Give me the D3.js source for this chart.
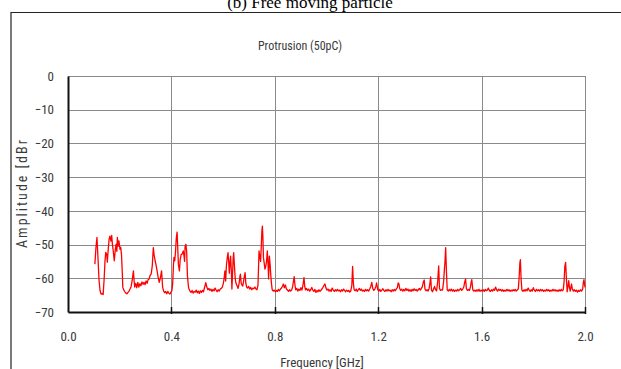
<!DOCTYPE html>
<html>
<head>
<meta charset="utf-8">
<script src="https://cdn.jsdelivr.net/npm/d3@7"></script>
<style>
  body { margin: 0; background: #fff; }
  svg { display: block; }
</style>
</head>
<body>
<svg id="chart" width="621" height="369"></svg>
<script>
// spectrum (frequency in GHz, amplitude in dBr)
var freqGHz = [
  0.104,0.108,0.112,0.116,0.120,0.124,0.128,0.132,0.136,0.140,0.143,0.146,0.150,0.152,0.156,0.159,0.162,0.166,0.169,0.172,
  0.175,0.179,0.183,0.186,0.189,0.191,0.194,0.197,0.201,0.204,0.207,0.210,0.212,0.216,0.220,0.224,0.228,0.232,0.236,0.240,
  0.244,0.248,0.253,0.256,0.258,0.262,0.266,0.270,0.274,0.278,0.282,0.286,0.290,0.294,0.298,0.302,0.306,0.310,0.314,0.317,
  0.322,0.326,0.330,0.333,0.337,0.340,0.344,0.349,0.353,0.357,0.362,0.366,0.370,0.374,0.378,0.382,0.386,0.390,0.394,0.398,
  0.402,0.405,0.408,0.410,0.413,0.416,0.419,0.422,0.424,0.427,0.431,0.434,0.438,0.441,0.446,0.449,0.451,0.453,0.456,0.459,
  0.462,0.466,0.468,0.472,0.476,0.480,0.484,0.488,0.492,0.496,0.500,0.504,0.508,0.512,0.516,0.520,0.524,0.528,0.533,0.537,
  0.541,0.545,0.549,0.553,0.557,0.561,0.565,0.569,0.573,0.577,0.581,0.585,0.589,0.593,0.597,0.601,0.604,0.607,0.610,0.613,
  0.616,0.619,0.622,0.624,0.627,0.629,0.632,0.634,0.637,0.639,0.641,0.644,0.647,0.650,0.654,0.658,0.662,0.665,0.667,0.670,
  0.673,0.676,0.679,0.682,0.685,0.688,0.691,0.695,0.699,0.703,0.707,0.711,0.715,0.719,0.723,0.727,0.731,0.735,0.739,0.742,
  0.745,0.748,0.750,0.752,0.754,0.756,0.759,0.762,0.765,0.768,0.771,0.774,0.776,0.779,0.782,0.784,0.787,0.790,0.794,0.798,
  0.802,0.806,0.810,0.814,0.818,0.822,0.826,0.830,0.833,0.837,0.841,0.845,0.849,0.853,0.857,0.861,0.865,0.869,0.872,0.875,
  0.878,0.881,0.885,0.889,0.893,0.897,0.901,0.905,0.909,0.913,0.916,0.919,0.923,0.927,0.931,0.935,0.939,0.943,0.947,0.951,
  0.955,0.959,0.963,0.967,0.971,0.975,0.979,0.983,0.987,0.991,0.994,0.998,1.002,1.006,1.010,1.014,1.018,1.022,1.026,1.030,
  1.034,1.038,1.042,1.046,1.050,1.054,1.058,1.062,1.066,1.070,1.074,1.078,1.082,1.086,1.090,1.094,1.098,1.101,1.104,1.107,
  1.111,1.115,1.119,1.123,1.127,1.131,1.135,1.139,1.143,1.147,1.151,1.155,1.159,1.163,1.167,1.171,1.175,1.179,1.183,1.187,
  1.191,1.194,1.198,1.202,1.206,1.210,1.214,1.218,1.222,1.226,1.230,1.234,1.238,1.242,1.246,1.250,1.254,1.258,1.262,1.266,
  1.270,1.274,1.277,1.280,1.283,1.287,1.291,1.295,1.299,1.303,1.307,1.311,1.315,1.319,1.323,1.327,1.331,1.335,1.339,1.343,
  1.347,1.351,1.355,1.359,1.363,1.367,1.371,1.375,1.378,1.381,1.385,1.389,1.393,1.397,1.400,1.403,1.406,1.410,1.414,1.418,
  1.422,1.426,1.430,1.434,1.437,1.441,1.445,1.449,1.453,1.456,1.458,1.461,1.464,1.467,1.471,1.475,1.479,1.483,1.487,1.491,
  1.495,1.499,1.503,1.507,1.511,1.515,1.519,1.523,1.527,1.531,1.535,1.538,1.541,1.545,1.549,1.553,1.557,1.560,1.562,1.566,
  1.570,1.574,1.578,1.582,1.586,1.590,1.594,1.598,1.602,1.606,1.610,1.614,1.618,1.622,1.626,1.630,1.634,1.638,1.642,1.646,
  1.650,1.654,1.658,1.662,1.666,1.670,1.674,1.678,1.682,1.686,1.690,1.694,1.698,1.702,1.706,1.710,1.714,1.718,1.722,1.726,
  1.730,1.734,1.738,1.742,1.745,1.748,1.750,1.753,1.756,1.760,1.764,1.768,1.772,1.776,1.780,1.784,1.788,1.792,1.796,1.800,
  1.804,1.808,1.812,1.816,1.820,1.824,1.828,1.832,1.836,1.840,1.844,1.848,1.852,1.856,1.860,1.864,1.868,1.872,1.876,1.880,
  1.884,1.888,1.892,1.896,1.900,1.904,1.908,1.912,1.916,1.919,1.922,1.925,1.928,1.931,1.934,1.937,1.940,1.943,1.946,1.948,
  1.951,1.955,1.959,1.963,1.967,1.971,1.975,1.979,1.983,1.987,1.991,1.994,1.996,2.000
];
var amplitudeDbr = [
  -55.8,-51,-47.9,-54,-60.5,-63.7,-64.7,-64.5,-64.8,-60,-55,-52.3,-53,-55.2,-51,-48.5,-47.5,-49,-47.3,-50,
  -51.9,-54.8,-51.5,-49.9,-52,-47.9,-50.5,-48.9,-51.4,-50.8,-53,-58.3,-62.7,-63.5,-64,-64.4,-64.6,-64.2,-63.8,-63.2,
  -62.5,-60.8,-57.8,-61,-62.6,-61.5,-62.8,-61.2,-62.6,-61.6,-62.2,-61.1,-61.8,-61.2,-61.9,-60.8,-61.5,-60.4,-60.2,-59.3,
  -58.6,-56.3,-50.9,-53,-54.8,-55.8,-57.5,-59.8,-61.2,-60,-57.8,-62.6,-63.8,-64.3,-63.9,-64.6,-63.9,-64.4,-64.7,-64.2,
  -63.6,-61.5,-56,-53.8,-54.8,-52,-48,-46.3,-50,-55.8,-57.8,-54.5,-52.9,-52.9,-51.9,-53.5,-55,-50.5,-49.9,-52,
  -59.3,-62.5,-63.2,-63.8,-64.2,-63.6,-64.4,-63.9,-64.1,-63.5,-64.3,-63.8,-64.5,-63.7,-64.2,-63.6,-64.0,-62.8,-61.3,-62.6,
  -63.4,-63.0,-63.6,-63.2,-63.9,-63.3,-63.7,-62.9,-63.5,-64.0,-63.4,-63.8,-63.2,-63.0,-62.6,-61.5,-60.0,-57.8,-60.8,-56,
  -54,-52.4,-55.5,-58.5,-55,-53.4,-58,-63.2,-58,-54,-52.4,-56.5,-60.2,-61.5,-62.2,-63.0,-61.5,-59.5,-58.8,-61.5,
  -62.0,-62.3,-61.0,-59.5,-58.3,-61.5,-62.6,-62.9,-62.4,-63.2,-62.7,-63.4,-62.9,-63.1,-62.6,-63.2,-63.4,-62.0,-51.9,-53.5,
  -55,-50,-46,-44.5,-48,-53.8,-55.5,-57.3,-56.5,-55,-51.9,-56,-60.2,-53.4,-56,-58.5,-61.5,-63.4,-63.8,-63.5,
  -64.0,-63.6,-63.9,-63.3,-63.7,-63.2,-62.9,-62.3,-61.7,-62.8,-62.0,-63.2,-63.5,-63.9,-63.4,-63.8,-63.5,-62.5,-61.0,-59.5,
  -62.0,-63.4,-63.0,-63.8,-63.2,-63.6,-62.8,-63.5,-62.0,-59.8,-62.5,-63.4,-63.0,-63.6,-63.2,-63.8,-63.4,-62.7,-63.5,-63.9,
  -63.3,-64.2,-63.6,-64.0,-63.4,-63.9,-63.5,-63.1,-62.6,-62.0,-61.7,-62.9,-63.5,-63.2,-63.8,-63.4,-63.9,-62.9,-63.5,-63.9,
  -63.4,-63.8,-63.3,-63.7,-63.5,-64.0,-63.4,-63.8,-63.2,-63.6,-64.0,-63.5,-63.9,-63.6,-64.1,-63.7,-62.0,-56.5,-61.5,-63.4,
  -63.7,-63.2,-63.9,-63.4,-63.0,-63.6,-63.2,-63.8,-63.5,-63.9,-63.3,-63.7,-63.4,-63.8,-63.2,-62.5,-61.2,-63.0,-63.6,-63.2,
  -62.4,-61.4,-63.3,-63.8,-63.3,-63.9,-63.5,-63.1,-63.6,-63.9,-63.4,-63.8,-63.3,-63.7,-63.5,-64.0,-63.4,-63.8,-63.3,-63.7,
  -63.2,-62.8,-61.4,-61.6,-63.0,-63.6,-63.2,-63.8,-63.3,-63.7,-63.0,-63.6,-63.2,-63.8,-63.4,-63.9,-63.3,-63.7,-63.1,-63.6,
  -63.3,-63.8,-63.4,-63.0,-63.5,-63.0,-62.5,-61.0,-60.5,-63.2,-63.7,-63.4,-63.8,-63.0,-61.5,-59.6,-63.5,-64.0,-63.2,-62.4,
  -63.4,-63.7,-61.0,-56.3,-63.0,-63.6,-63.4,-63.5,-61.0,-57.5,-55.5,-50.9,-58.0,-63.4,-63.8,-63.3,-63.7,-63.2,-63.8,-63.4,
  -63.9,-63.5,-63.8,-63.3,-63.7,-63.4,-63.0,-63.6,-63.2,-62.6,-61.0,-60.2,-63.0,-63.6,-63.3,-63.6,-62.5,-61.0,-60.4,-63.4,
  -63.8,-63.5,-63.9,-63.4,-63.8,-63.3,-63.9,-63.5,-63.8,-63.4,-63.9,-63.3,-63.7,-63.5,-62.9,-63.6,-63.9,-63.4,-63.8,-63.2,
  -63.6,-62.6,-63.4,-63.8,-63.2,-63.6,-63.3,-63.8,-63.4,-63.9,-63.5,-63.8,-63.3,-63.7,-63.4,-63.9,-63.5,-63.8,-63.4,-63.7,
  -63.3,-63.8,-63.5,-63.1,-60.0,-55.5,-54.5,-60.5,-63.5,-63.9,-63.4,-63.8,-63.3,-63.7,-62.9,-63.5,-63.9,-63.4,-63.8,-62.8,
  -63.5,-63.9,-63.3,-63.7,-63.4,-63.8,-63.3,-63.7,-63.4,-63.9,-63.5,-63.8,-63.3,-63.7,-63.4,-63.9,-63.5,-63.8,-63.3,-63.7,
  -63.4,-63.8,-63.5,-63.9,-63.4,-63.8,-63.3,-63.7,-63.4,-61.0,-56.5,-55.3,-60.0,-64.0,-62.5,-60.7,-62.8,-63.8,-62.5,-61.7,
  -63.2,-63.8,-63.4,-63.9,-63.5,-64.1,-63.6,-63.9,-63.4,-63.8,-63.2,-61.0,-60.4,-62.7
];
var xTicks = [0.0, 0.4, 0.8, 1.2, 1.6, 2.0];
var yTicks = [0, -10, -20, -30, -40, -50, -60, -70];

var pageTitle = "(b) Free moving particle";
var chartTitle = "Protrusion (50pC)";
var xLabel = "Frequency [GHz]";
var yLabel = "Amplitude [dBr";

var svg = d3.select("#chart");
var narrow = "'Liberation Sans Narrow', 'Roboto Condensed', 'Liberation Sans', sans-serif";
var inkColor = "#3a3a3a";

var plotLeft = 68, plotRight = 585, plotTop = 76, plotBottom = 312;

var x = d3.scaleLinear().domain([0, 2]).range([plotLeft, plotRight]);
var y = d3.scaleLinear().domain([-70, 0]).range([plotBottom, plotTop]);

// page caption (cut off by the top edge) and the outer frame
svg.append("text")
  .attr("x", 310).attr("y", 8)
  .attr("text-anchor", "middle")
  .style("font-family", "'Liberation Serif', serif")
  .style("font-size", "17px")
  .text(pageTitle);

svg.append("path")
  .attr("d", "M11,372 L11,12.5 L625,12.5")
  .attr("fill", "none")
  .attr("stroke", "#222")
  .attr("stroke-width", 1.2);

// grid
svg.append("g").selectAll("line")
  .data(yTicks.slice(0, -1))
  .enter().append("line")
  .attr("x1", plotLeft).attr("x2", plotRight)
  .attr("y1", function(d) { return Math.round(y(d)) + 0.5; })
  .attr("y2", function(d) { return Math.round(y(d)) + 0.5; })
  .attr("stroke", "#8a8a8a").attr("stroke-width", 1);

svg.append("g").selectAll("line")
  .data(xTicks.slice(1))
  .enter().append("line")
  .attr("x1", function(d) { return Math.round(x(d)) + 0.5; })
  .attr("x2", function(d) { return Math.round(x(d)) + 0.5; })
  .attr("y1", plotTop).attr("y2", plotBottom)
  .attr("stroke", "#8a8a8a").attr("stroke-width", 1);

// axes
var xAxis = svg.append("g")
  .attr("transform", "translate(0," + plotBottom + ")")
  .call(d3.axisBottom(x).tickValues(xTicks).tickSize(0).tickPadding(20)
    .tickFormat(d3.format(".1f")));
xAxis.select(".domain").attr("stroke", "#111").attr("stroke-width", 2);
xAxis.selectAll("text")
  .style("font-family", narrow).style("font-size", "13px").attr("fill", inkColor);

svg.append("g").selectAll("line")
  .data(xTicks.slice(1))
  .enter().append("line")
  .attr("x1", function(d) { return Math.round(x(d)) + 0.5; })
  .attr("x2", function(d) { return Math.round(x(d)) + 0.5; })
  .attr("y1", plotBottom - 5).attr("y2", plotBottom + 2)
  .attr("stroke", "#111").attr("stroke-width", 1.5);

var yAxis = svg.append("g")
  .attr("transform", "translate(" + plotLeft + ",0)")
  .call(d3.axisLeft(y).tickValues(yTicks).tickSize(0).tickPadding(14));
yAxis.select(".domain").attr("stroke", "#111").attr("stroke-width", 2);
yAxis.selectAll("text")
  .style("font-family", narrow).style("font-size", "13px").attr("fill", inkColor);

// spectrum trace
var line = d3.line()
  .x(function(d, i) { return x(freqGHz[i]); })
  .y(function(d) { return y(d); });

svg.append("path")
  .datum(amplitudeDbr)
  .attr("d", line)
  .attr("fill", "none")
  .attr("stroke", "#ff0000")
  .attr("stroke-width", 1.3)
  .attr("stroke-linejoin", "round");

// titles
svg.append("text")
  .attr("x", 300).attr("y", 50)
  .attr("text-anchor", "middle")
  .style("font-family", narrow).style("font-size", "12px").attr("fill", inkColor)
  .text(chartTitle);

svg.append("text")
  .attr("x", 322).attr("y", 367)
  .attr("text-anchor", "middle")
  .style("font-family", narrow).style("font-size", "13px").attr("fill", inkColor)
  .text(xLabel);

svg.append("text")
  .attr("transform", "translate(27,193) rotate(-90)")
  .attr("text-anchor", "middle")
  .style("font-family", narrow).style("font-size", "14px")
  .style("letter-spacing", "2px").attr("fill", inkColor)
  .text(yLabel);
</script>
</body>
</html>
